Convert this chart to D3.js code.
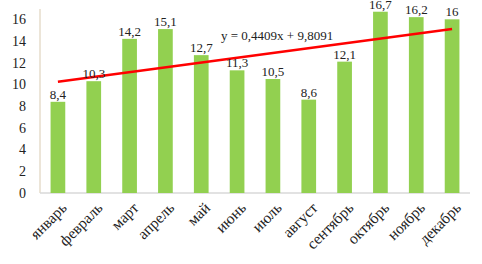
<!DOCTYPE html>
<html>
<head>
<meta charset="utf-8">
<script src="https://cdn.jsdelivr.net/npm/d3@7"></script>
<style>
    body { margin: 0; background: #fff; }
    svg { display: block; }
    svg text { font-family: "Liberation Serif", "Times New Roman", "DejaVu Serif", serif; }
</style>
</head>
<body>
<div id="chart"></div>
<script>
const months = ['январь', 'февраль', 'март', 'апрель', 'май', 'июнь', 'июль', 'август', 'сентябрь', 'октябрь', 'ноябрь', 'декабрь'];
const values = [8.4, 10.3, 14.2, 15.1, 12.7, 11.3, 10.5, 8.6, 12.1, 16.7, 16.2, 16];
const yTicks = [0, 2, 4, 6, 8, 10, 12, 14, 16];
const trendSlope = 0.4409;
const trendIntercept = 9.8091;
const trendLabel = 'y = 0,4409x + 9,8091';

const width = 482, height = 264;
const margin = { top: 9, right: 12, bottom: 71, left: 40 };
const innerW = width - margin.left - margin.right;
const innerH = height - margin.top - margin.bottom;

const svg = d3.select('#chart')
    .append('svg')
    .attr('width', width)
    .attr('height', height);

const g = svg.append('g')
    .attr('transform', `translate(${margin.left},${margin.top})`);

const x = d3.scaleBand()
    .domain(months)
    .range([0, innerW])
    .paddingInner(0.59)
    .paddingOuter(0.295);

const y = d3.scaleLinear()
    .domain([0, 16.95])
    .range([innerH, 0]);

// Y axis labels
g.selectAll('.ytick')
    .data(yTicks)
    .enter()
    .append('text')
    .attr('x', -14)
    .attr('y', d => y(d))
    .attr('dy', '0.35em')
    .attr('text-anchor', 'end')
    .style('font-size', '14px')
    .style('fill', '#222')
    .text(d => d);

// axis lines
g.append('line')
    .attr('x1', 0).attr('x2', 0)
    .attr('y1', 0).attr('y2', innerH)
    .attr('stroke', '#e6dccb')
    .attr('stroke-width', 1.5);

g.append('line')
    .attr('x1', 0).attr('x2', innerW)
    .attr('y1', innerH).attr('y2', innerH)
    .attr('stroke', '#d9d9d9')
    .attr('stroke-width', 1.5);

// Bars
g.selectAll('.bar')
    .data(values)
    .enter()
    .append('rect')
    .attr('class', 'bar')
    .attr('x', (d, i) => x(months[i]))
    .attr('y', d => y(d))
    .attr('width', x.bandwidth())
    .attr('height', d => innerH - y(d))
    .attr('fill', '#92d050');

// Trend line
const trendData = months.map((m, i) => ({ m, v: trendSlope * (i + 1) + trendIntercept }));
const line = d3.line()
    .x(d => x(d.m) + x.bandwidth() / 2)
    .y(d => y(d.v));

g.append('path')
    .datum([trendData[0], trendData[trendData.length - 1]])
    .attr('d', line)
    .attr('fill', 'none')
    .attr('stroke', '#ff0000')
    .attr('stroke-width', 2.5);

// Value labels
g.selectAll('.val')
    .data(values)
    .enter()
    .append('text')
    .attr('x', (d, i) => x(months[i]) + x.bandwidth() / 2)
    .attr('y', d => y(d) - 3)
    .attr('text-anchor', 'middle')
    .style('font-size', '13px')
    .style('fill', '#222')
    .text(d => String(d).replace('.', ','));

// Trend equation
g.append('text')
    .attr('x', 221 - margin.left)
    .attr('y', 40 - margin.top)
    .style('font-size', '13px')
    .style('fill', '#222')
    .text(trendLabel);

// X labels, rotated
g.selectAll('.xlab')
    .data(months)
    .enter()
    .append('text')
    .attr('transform', d => `translate(${x(d) + x.bandwidth() / 2 + 6},${innerH + 12}) rotate(-45)`)
    .attr('text-anchor', 'end')
    .attr('dy', '0.35em')
    .style('font-size', '15.5px')
    .style('fill', '#222')
    .text(d => d);
</script>
</body>
</html>
